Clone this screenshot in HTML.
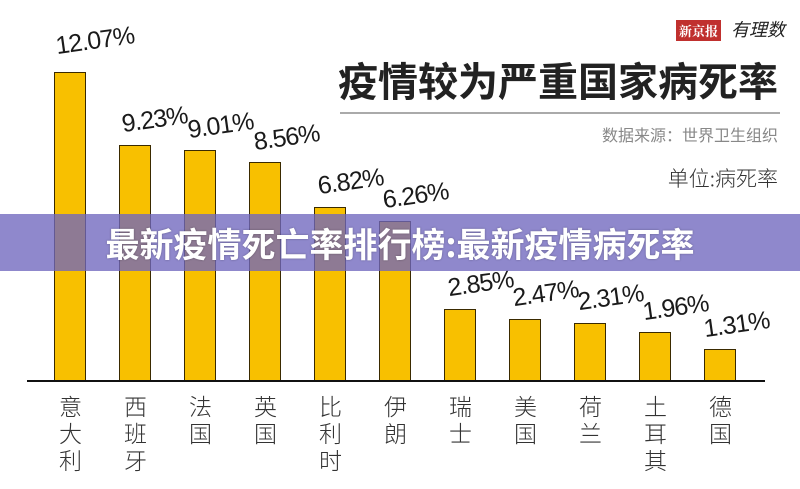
<!DOCTYPE html>
<html><head><meta charset="utf-8"><style>
body{margin:0;width:800px;height:489px;background:#fff;position:relative;overflow:hidden;font-family:"Liberation Sans","Noto Sans CJK SC",sans-serif}
.bar{position:absolute;width:32px;background:#f8c000;border:1px solid #3a2a00;border-bottom:none;box-sizing:border-box}
.v{position:absolute;font-size:25px;color:#1a1a1a;transform:rotate(-8deg);transform-origin:left bottom;white-space:nowrap;letter-spacing:-1px}
.c{position:absolute;top:392px;width:33px;text-align:center;font-size:23px;line-height:27px;color:#333;font-family:"Noto Sans CJK SC",sans-serif;font-weight:300}
</style></head><body>
<div style="position:absolute;left:676px;top:20px;background:#c0302e;color:#fff;font-size:13px;padding:1px 3px;font-family:'Noto Serif CJK SC',serif;font-weight:bold">新京报</div>
<div style="position:absolute;left:731px;top:16px;font-size:18px;font-style:italic;color:#222;font-family:'Noto Sans CJK SC',sans-serif">有理数</div>
<div style="position:absolute;left:338px;top:54px;font-size:40px;font-weight:bold;color:#222;font-family:'Noto Sans CJK SC',sans-serif;letter-spacing:0px;line-height:50px">疫情较为严重国家病死率</div>
<div style="position:absolute;left:340px;top:112px;width:440px;height:2px;background:#aaa"></div>
<div style="position:absolute;right:22px;top:122px;font-size:16px;color:#888;font-family:'Noto Sans CJK SC',sans-serif">数据来源：世界卫生组织</div>
<div style="position:absolute;right:22px;top:163px;font-size:21px;color:#333;font-family:'Noto Sans CJK SC',sans-serif;font-weight:300">单位:病死率</div>

<div class="bar" style="left:54px;top:72px;height:309px"></div>
<div class="bar" style="left:119px;top:145px;height:236px"></div>
<div class="bar" style="left:184px;top:150px;height:231px"></div>
<div class="bar" style="left:249px;top:162px;height:219px"></div>
<div class="bar" style="left:314px;top:207px;height:174px"></div>
<div class="bar" style="left:379px;top:221px;height:160px"></div>
<div class="bar" style="left:444px;top:309px;height:72px"></div>
<div class="bar" style="left:509px;top:319px;height:62px"></div>
<div class="bar" style="left:574px;top:323px;height:58px"></div>
<div class="bar" style="left:639px;top:332px;height:49px"></div>
<div class="bar" style="left:704px;top:349px;height:32px"></div>
<div style="position:absolute;left:27px;top:380px;width:738px;height:2px;background:#111"></div>

<div class="v" style="left:58px;top:32px">12.07%</div>
<div class="v" style="left:124px;top:110px">9.23%</div>
<div class="v" style="left:190px;top:116px">9.01%</div>
<div class="v" style="left:256px;top:128px">8.56%</div>
<div class="v" style="left:320px;top:172px">6.82%</div>
<div class="v" style="left:385px;top:186px">6.26%</div>
<div class="v" style="left:450px;top:274px">2.85%</div>
<div class="v" style="left:515px;top:284px">2.47%</div>
<div class="v" style="left:580px;top:288px">2.31%</div>
<div class="v" style="left:645px;top:298px">1.96%</div>
<div class="v" style="left:706px;top:315px">1.31%</div>

<div class="c" style="left:54px">意<br>大<br>利</div>
<div class="c" style="left:119px">西<br>班<br>牙</div>
<div class="c" style="left:184px">法<br>国</div>
<div class="c" style="left:249px">英<br>国</div>
<div class="c" style="left:314px">比<br>利<br>时</div>
<div class="c" style="left:379px">伊<br>朗</div>
<div class="c" style="left:444px">瑞<br>士</div>
<div class="c" style="left:509px">美<br>国</div>
<div class="c" style="left:574px">荷<br>兰</div>
<div class="c" style="left:639px">土<br>耳<br>其</div>
<div class="c" style="left:704px">德<br>国</div>

<div style="position:absolute;left:0;top:214px;width:800px;height:57px;background:rgba(112,102,190,0.78)"></div>
<div style="position:absolute;left:0;top:214px;width:800px;height:57px;line-height:57px;text-align:center;color:#fff;font-size:34px;font-weight:bold;font-family:'Noto Sans CJK SC',sans-serif;text-shadow:0 0 2px rgba(0,0,0,0.3)">最新疫情死亡率排行榜:最新疫情病死率</div>
</body></html>
